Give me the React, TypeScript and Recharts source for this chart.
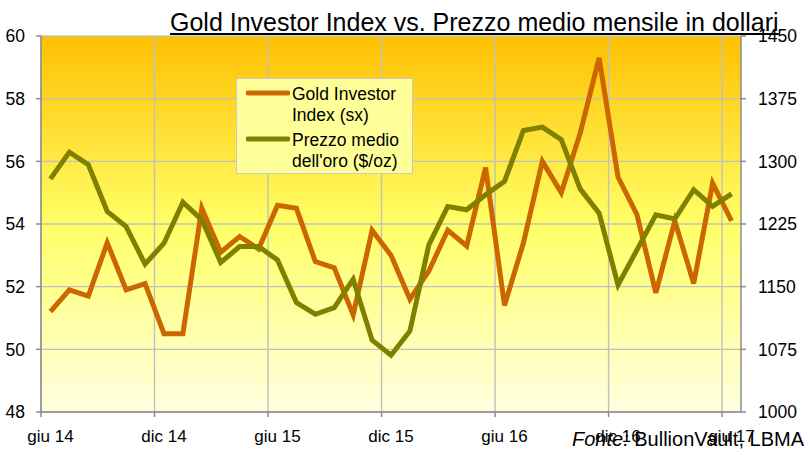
import React from 'react';
import { LineChart, Line, XAxis, YAxis, CartesianGrid, Legend } from 'recharts';

const months = [
  'giu 14', 'lug 14', 'ago 14', 'set 14', 'ott 14', 'nov 14', 'dic 14',
  'gen 15', 'feb 15', 'mar 15', 'apr 15', 'mag 15', 'giu 15', 'lug 15',
  'ago 15', 'set 15', 'ott 15', 'nov 15', 'dic 15', 'gen 16', 'feb 16',
  'mar 16', 'apr 16', 'mag 16', 'giu 16', 'lug 16', 'ago 16', 'set 16',
  'ott 16', 'nov 16', 'dic 16', 'gen 17', 'feb 17', 'mar 17', 'apr 17',
  'mag 17', 'giu 17',
];

// Gold Investor Index (asse sx)
const investorIndex = [
  51.2, 51.9, 51.7, 53.4, 51.9, 52.1, 50.5, 50.5, 54.5, 53.1, 53.6, 53.2,
  54.6, 54.5, 52.8, 52.6, 51.1, 53.8, 53.0, 51.6, 52.5, 53.8, 53.3, 55.8,
  51.4, 53.4, 56.0, 55.0, 56.9, 59.3, 55.5, 54.3, 51.8, 54.1, 52.1, 55.3,
  54.1,
];

// Prezzo medio dell'oro, $/oz (asse dx)
const goldPrice = [
  1279, 1311, 1296, 1240, 1222, 1177, 1202, 1251, 1230, 1179, 1198, 1198,
  1182, 1131, 1117, 1125, 1159, 1086, 1068, 1097, 1200, 1246, 1242, 1260,
  1276, 1337, 1341, 1326, 1267, 1238, 1152, 1194, 1236, 1231, 1266, 1246,
  1261,
];

const leftTicks = [48, 50, 52, 54, 56, 58, 60];
const rightTicks = [1000, 1075, 1150, 1225, 1300, 1375, 1450];
const labelIdx = [0, 6, 12, 18, 24, 30, 36];

const data = months.map((m, i) => ({ i, month: m, gii: investorIndex[i], price: goldPrice[i] }));
const boundaries = labelIdx.map((v) => v - 0.5);
const X_DOMAIN = [-0.5, months.length - 0.5];

const FONT = '"Liberation Sans", Arial, Helvetica, sans-serif';
const ORANGE = '#CC6600';
const OLIVE = '#808000';
const AXIS = '#8c8c8c';
const GRID = '#c0c0c0';

const W = 804;
const H = 461;
const LEFT_W = 41;
const RIGHT_W = 63;
const HALF_BAND = (W - LEFT_W - RIGHT_W) / months.length / 2;

// grid lines on the month boundaries (Excel style)
const gridX = ({ xAxis, offset }: any) => {
  const s = xAxis && xAxis.scale;
  if (typeof s === 'function') return boundaries.map((b) => s(b));
  if (s && typeof s.map === 'function') return boundaries.map((b) => s.map(b));
  return boundaries.map(
    (b) => offset.left + ((b - X_DOMAIN[0]) / (X_DOMAIN[1] - X_DOMAIN[0])) * offset.width
  );
};

const XTick = ({ x, y, payload }: any) => {
  const idx = Math.round(payload.value + 0.5);
  return (
    <text x={x + HALF_BAND} y={y} dy="0.71em" textAnchor="middle" fill="#000" fontSize={17} fontFamily={FONT}>
      {months[idx]}
    </text>
  );
};

const LegendBox = () => (
  <div
    style={{
      width: 177,
      height: 96,
      boxSizing: 'border-box',
      background: '#FFFF99',
      border: '1px solid #c8c8c8',
      paddingTop: 5,
      fontFamily: FONT,
      fontSize: 17.5,
      lineHeight: '21px',
      color: '#000',
    }}
  >
    {[
      { c: ORANGE, t1: 'Gold Investor', t2: 'Index (sx)' },
      { c: OLIVE, t1: 'Prezzo medio', t2: "dell'oro ($/oz)" },
    ].map((it, k) => (
      <div key={k} style={{ position: 'relative', height: 42, marginBottom: 4 }}>
        <svg width={44} height={8} style={{ position: 'absolute', left: 9, top: 5 }}>
          <line x1={2} y1={4} x2={42} y2={4} stroke={it.c} strokeWidth={5} strokeLinecap="round" />
        </svg>
        <div style={{ position: 'absolute', left: 55, top: 0, whiteSpace: 'nowrap' }}>
          {it.t1}
          <br />
          {it.t2}
        </div>
      </div>
    ))}
  </div>
);

export default function App() {
  return (
    <div style={{ position: 'absolute', left: 0, top: 0, width: W, height: H, background: '#fff' }}>
      <LineChart width={W} height={H} data={data} margin={{ top: 36, right: 0, bottom: 0, left: 0 }}>
        <defs>
          <linearGradient id="bgGrad" x1="0" y1="0" x2="0" y2="1">
            <stop offset="0%" stopColor="#FFC000" />
            <stop offset="50%" stopColor="#FFFF66" />
            <stop offset="100%" stopColor="#FFFFE0" />
          </linearGradient>
        </defs>
        <CartesianGrid
          yAxisId="l"
          fill="url(#bgGrad)"
          fillOpacity={1}
          stroke={GRID}
          strokeWidth={1.4}
          verticalCoordinatesGenerator={gridX}
        />
        <XAxis
          dataKey="i"
          type="number"
          domain={X_DOMAIN}
          ticks={boundaries}
          interval={0}
          height={H - 412}
          tick={<XTick />}
          tickSize={5}
          tickMargin={13}
          axisLine={{ stroke: AXIS, strokeWidth: 1.5 }}
          tickLine={{ stroke: AXIS, strokeWidth: 1.5 }}
        />
        <YAxis
          yAxisId="l"
          domain={[48, 60]}
          ticks={leftTicks}
          interval={0}
          width={LEFT_W}
          tickSize={5}
          tickMargin={11}
          axisLine={{ stroke: AXIS, strokeWidth: 1.5 }}
          tickLine={{ stroke: AXIS, strokeWidth: 1.5 }}
          tick={{ fill: '#000', fontSize: 17.5, fontFamily: FONT }}
        />
        <YAxis
          yAxisId="r"
          orientation="right"
          domain={[1000, 1450]}
          ticks={rightTicks}
          interval={0}
          width={RIGHT_W}
          tickSize={5}
          tickMargin={12}
          axisLine={{ stroke: AXIS, strokeWidth: 1.5 }}
          tickLine={{ stroke: AXIS, strokeWidth: 1.5 }}
          tick={{ fill: '#000', fontSize: 17.5, fontFamily: FONT }}
        />
        <Legend
          layout="vertical"
          align="center"
          verticalAlign="middle"
          content={<LegendBox />}
          wrapperStyle={{ position: 'absolute', left: 236, top: 78, width: 177, height: 96 }}
        />
        <Line
          yAxisId="l"
          type="linear"
          dataKey="gii"
          name="Gold Investor Index (sx)"
          stroke={ORANGE}
          strokeWidth={5}
          dot={false}
          isAnimationActive={false}
        />
        <Line
          yAxisId="r"
          type="linear"
          dataKey="price"
          name="Prezzo medio dell'oro ($/oz)"
          stroke={OLIVE}
          strokeWidth={5}
          dot={false}
          isAnimationActive={false}
        />
      </LineChart>
      <div
        style={{
          position: 'absolute',
          left: 170,
          top: 10,
          fontFamily: FONT,
          fontSize: 25,
          lineHeight: '25px',
          textDecoration: 'underline',
          whiteSpace: 'nowrap',
          color: '#000',
        }}
      >
        Gold Investor Index vs. Prezzo medio mensile in dollari
      </div>
      <div
        style={{
          position: 'absolute',
          left: 572,
          top: 429,
          fontFamily: FONT,
          fontSize: 20,
          lineHeight: '20px',
          whiteSpace: 'nowrap',
          color: '#000',
        }}
      >
        <i>Fonte:</i> BullionVault, LBMA
      </div>
    </div>
  );
}
